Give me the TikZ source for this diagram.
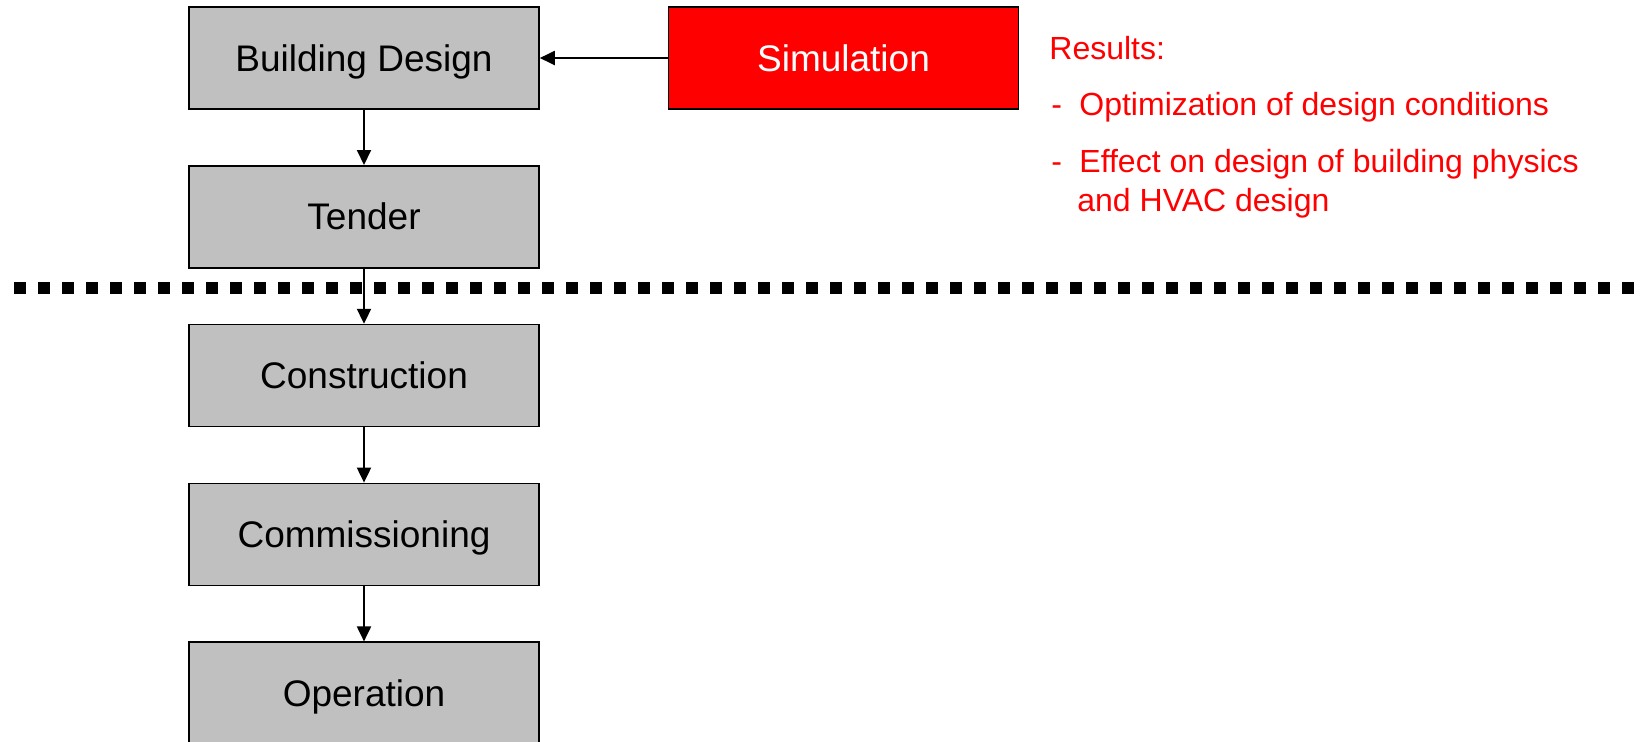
\documentclass[tikz,border=0pt]{standalone}
\usepackage{fontspec}
\setmainfont{Liberation Sans}
\usetikzlibrary{arrows.meta}
\definecolor{phasegrey}{HTML}{C0C0C0}
\definecolor{simred}{HTML}{FF0000}
\tikzset{
  phase/.style={draw=black, line width=0.8pt, fill=phasegrey, minimum width=175pt,
    minimum height=51pt, inner sep=0pt, text height=13pt, text depth=0pt,
    font=\fontsize{18.5}{22}\selectfont},
  simbox/.style={phase, fill=simred, text=white},
  flow/.style={line width=1pt, -{Triangle[length=7.5pt,width=7pt]}},
  note/.style={anchor=base west, inner sep=0pt, text=simred, font=\fontsize{16}{19.5}\selectfont},
  divider/.style={line width=6pt, dash pattern=on 6pt off 6pt}
}
\begin{document}
\begin{tikzpicture}[x=0.5pt, y=-0.5pt]
  \useasboundingbox (0,0) rectangle (1640,741);

  % project phases
  \node[phase] (design)  at (364,58)    {Building Design};
  \node[phase] (tender)  at (364,216.8) {Tender};
  \node[phase] (constr)  at (364,375.6) {Construction};
  \node[phase] (commiss) at (364,534.4) {Commissioning};
  \node[phase] (oper)    at (364,693.2) {Operation};

  % simulation feeding the design
  \node[simbox] (sim) at (843.5,58) {Simulation};

  % separator between planning and realisation
  \coordinate (sepL) at (14,288);
  \coordinate (sepR) at (1634,288);
  \draw[divider] (sepL) -- (sepR);

  % connectors
  \draw[flow] (design) -- (tender);
  \draw[flow] (tender) -- (constr);
  \draw[flow] (constr) -- (commiss);
  \draw[flow] (commiss) -- (oper);
  \draw[flow] (sim) -- (design);

  % results of the simulation
  \node[note] (res)   at (1049,59)  {Results:};
  \node[note] (dashA) at (1051,115) {-};
  \node[note] (optim) at (1079,115) {Optimization of design conditions};
  \node[note] (dashB) at (1051,172) {-};
  \node[note] (effA)  at (1079,172) {Effect on design of building physics};
  \node[note] (effB)  at (1077,211) {and HVAC design};
\end{tikzpicture}
\end{document}
